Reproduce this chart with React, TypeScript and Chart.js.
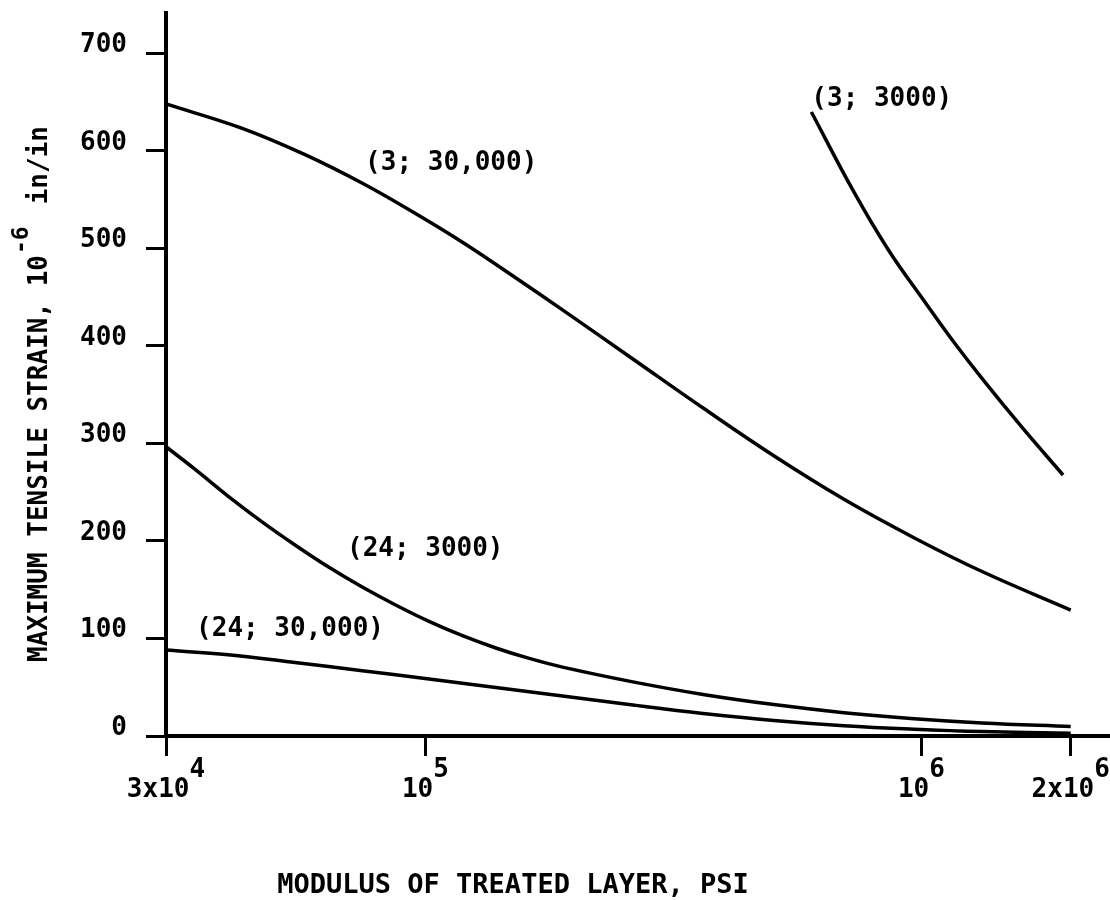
import React, { useEffect, useRef } from "react";
import { Chart, registerables } from "chart.js";

Chart.register(...registerables);

// ---- data ----
const S1_LABEL = "(3; 30,000)";
const S1_X = [3e4, 4.26e4, 5.72e4, 7.45e4, 9.55e4, 1.19e5, 1.52e5, 1.89e5, 2.62e5, 3.63e5, 5.04e5, 6.98e5, 9.68e5, 1.325e6, 2.0e6];
const S1_Y = [647.7, 623.0, 595.8, 566.7, 535.5, 505.8, 469.7, 436.7, 386.4, 336.1, 287.2, 242.6, 203.0, 168.6, 129.1];

const S2_LABEL = "(3; 3000)";
const S2_X = [6.0e5, 7.29e5, 8.58e5, 1.023e6, 1.154e6, 1.337e6, 1.599e6, 1.93e6];
const S2_Y = [639.5, 558.6, 498.1, 442.8, 405.9, 363.9, 315.7, 267.5];

const S3_LABEL = "(24; 3000)";
const S3_X = [3e4, 3.42e4, 4.0e4, 4.67e4, 5.46e4, 6.38e4, 7.46e4, 8.71e4, 1.017e5, 1.188e5, 1.387e5, 1.62e5, 1.89e5, 2.62e5, 3.63e5, 5.04e5, 6.98e5, 9.67e5, 1.325e6, 2.0e6];
const S3_Y = [296.5, 274.0, 245.9, 220.0, 195.8, 173.2, 152.7, 134.3, 117.5, 102.8, 90.2, 79.5, 70.6, 55.5, 42.6, 32.2, 23.9, 17.7, 13.4, 9.7];

const S4_LABEL = "(24; 30,000)";
const S4_X = [3e4, 4.0e4, 5.46e4, 7.46e4, 1.017e5, 1.387e5, 1.89e5, 2.62e5, 3.63e5, 5.04e5, 6.98e5, 9.67e5, 1.325e6, 2.0e6];
const S4_Y = [88.1, 83.3, 75.4, 66.9, 58.4, 49.8, 41.0, 31.7, 23.1, 15.9, 10.5, 6.9, 4.5, 2.9];

// annotation anchors (data coordinates: left edge, text baseline)
const ANNOT_TEXT = [S1_LABEL, S2_LABEL, S3_LABEL, S4_LABEL];
const ANNOT_X = [7.56e4, 6.0e5, 6.95e4, 3.45e4];
const ANNOT_Y = [580, 646, 184, 102];

// ticks
const Y_TICKS = [0, 100, 200, 300, 400, 500, 600, 700];
const X_TICKS = [3e4, 1e5, 1e6, 2e6];
const X_TICK_BASE = ["3x10", "10", "10", "2x10"];
const X_TICK_SUP = ["4", "5", "6", "6"];

const X_TITLE = "MODULUS OF TREATED LAYER, PSI";
const Y_TITLE_MAIN = "MAXIMUM TENSILE STRAIN, 10";
const Y_TITLE_SUP = "-6";
const Y_TITLE_END = "in/in";

const X_MIN = 3e4;
const X_MAX = 2.4e6;
const Y_MIN = 0;
const Y_MAX = 741;

const FONT = '"DejaVu Sans Mono", "Liberation Mono", monospace';

const toPts = (xs: number[], ys: number[]) => xs.map((x, i) => ({ x, y: ys[i] }));

const textPlugin = {
  id: "texts",
  beforeDraw(chart: any) {
    const ctx = chart.ctx;
    ctx.save();
    ctx.fillStyle = "#ffffff";
    ctx.fillRect(0, 0, chart.width, chart.height);
    ctx.restore();
  },
  afterDraw(chart: any) {
    const ctx = chart.ctx;
    const xs = chart.scales.x;
    const ys = chart.scales.y;
    ctx.save();
    ctx.fillStyle = "#000";
    ctx.font = `bold 26px ${FONT}`;
    ctx.textBaseline = "alphabetic";

    // y tick labels
    ctx.textAlign = "right";
    Y_TICKS.forEach((v) => {
      const py = ys.getPixelForValue(v);
      ctx.fillText(String(v), 127, py - 1);
    });

    // x tick labels with superscripts
    ctx.textAlign = "left";
    X_TICKS.forEach((v, i) => {
      const px = xs.getPixelForValue(v);
      const wb = ctx.measureText(X_TICK_BASE[i]).width;
      const wsup = ctx.measureText(X_TICK_SUP[i]).width;
      const x0 = px - (wb + wsup) / 2;
      ctx.fillText(X_TICK_BASE[i], x0, 797);
      ctx.fillText(X_TICK_SUP[i], x0 + wb, 777);
    });

    // curve annotations
    ANNOT_TEXT.forEach((t, i) => {
      ctx.fillText(t, xs.getPixelForValue(ANNOT_X[i]), ys.getPixelForValue(ANNOT_Y[i]));
    });

    // x title
    ctx.font = `bold 27px ${FONT}`;
    ctx.textAlign = "center";
    ctx.fillText(X_TITLE, 513, 893);

    // y title (rotated)
    ctx.translate(47, 662);
    ctx.rotate(-Math.PI / 2);
    ctx.textAlign = "left";
    ctx.font = `bold 26px ${FONT}`;
    ctx.fillText(Y_TITLE_MAIN, 0, 0);
    let w = ctx.measureText(Y_TITLE_MAIN).width;
    ctx.font = `bold 23px ${FONT}`;
    ctx.fillText(Y_TITLE_SUP, w + 1, -19);
    w += ctx.measureText(Y_TITLE_SUP).width + 1;
    ctx.font = `bold 26px ${FONT}`;
    ctx.fillText(Y_TITLE_END, w + 22, 0);
    ctx.restore();
  },
};

export default function App() {
  const ref = useRef<HTMLCanvasElement | null>(null);
  useEffect(() => {
    if (!ref.current) return;
    const mk = (label: string, xs: number[], ys: number[]) => ({
      label,
      data: toPts(xs, ys),
      borderColor: "#000",
      borderWidth: 3.5,
      pointRadius: 0,
      fill: false,
      tension: 0.4,
    });
    const chart = new Chart(ref.current, {
      type: "line",
      data: {
        datasets: [
          mk(S1_LABEL, S1_X, S1_Y),
          mk(S2_LABEL, S2_X, S2_Y),
          mk(S3_LABEL, S3_X, S3_Y),
          mk(S4_LABEL, S4_X, S4_Y),
        ],
      },
      options: {
        animation: false,
        responsive: false,
        maintainAspectRatio: false,
        devicePixelRatio: 1,
        layout: { padding: { top: 13, left: 0, right: 0, bottom: 0 } },
        plugins: { legend: { display: false }, tooltip: { enabled: false } },
        scales: {
          x: {
            type: "logarithmic",
            min: X_MIN,
            max: X_MAX,
            afterBuildTicks: (scale: any) => {
              scale.ticks = X_TICKS.map((v) => ({ value: v }));
            },
            afterFit: (scale: any) => {
              scale.height = 164;
            },
            ticks: { display: false },
            grid: {
              drawOnChartArea: false,
              drawTicks: true,
              tickLength: 20,
              lineWidth: 3,
              color: "#000",
            },
            border: { display: true, width: 4, color: "#000" },
          },
          y: {
            type: "linear",
            min: Y_MIN,
            max: Y_MAX,
            afterBuildTicks: (scale: any) => {
              scale.ticks = Y_TICKS.map((v) => ({ value: v }));
            },
            afterFit: (scale: any) => {
              scale.width = 166;
            },
            ticks: { display: false },
            grid: {
              drawOnChartArea: false,
              drawTicks: true,
              tickLength: 20,
              lineWidth: 3,
              color: "#000",
            },
            border: { display: true, width: 4, color: "#000" },
          },
        },
      },
      plugins: [textPlugin],
    });
    return () => chart.destroy();
  }, []);
  return (
    <div style={{ position: "fixed", left: 0, top: 0, width: 1110, height: 900, background: "#fff" }}>
      <canvas ref={ref} width={1110} height={900} style={{ width: 1110, height: 900, display: "block" }} />
    </div>
  );
}
